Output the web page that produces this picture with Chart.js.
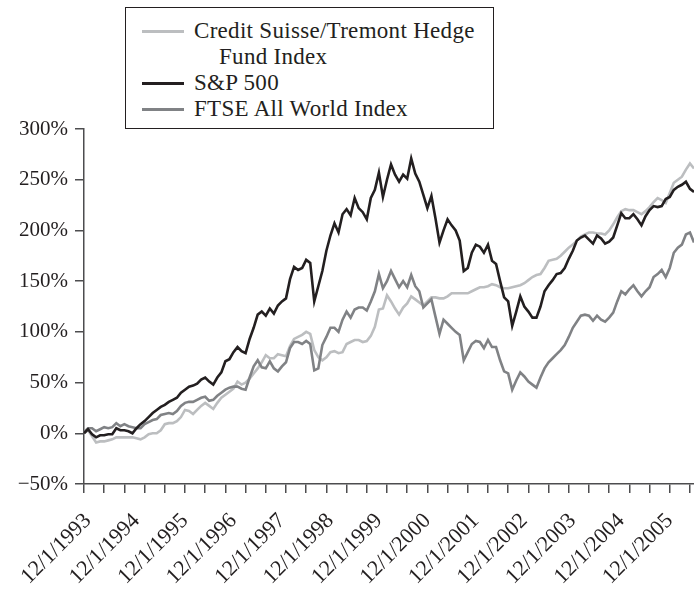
<!DOCTYPE html>
<html>
<head>
<meta charset="utf-8">
<script src="https://cdn.jsdelivr.net/npm/chart.js@4"></script>
<style>
    body { margin: 0; background: #fff; }
    #wrap { position: relative; width: 694px; height: 589px; }
    #legend {
        position: absolute; left: 125px; top: 7px; width: 369px; height: 122px;
        border: 1.5px solid #231f20; background: #fff;
        font-family: "Liberation Serif", serif; font-size: 23px; letter-spacing: 0.3px; color: #231f20;
        padding-top: 10px; box-sizing: border-box;
    }
    #legend .item { position: relative; padding-left: 93px; text-indent: -25px; line-height: 26px; padding-right: 4px; }
    #legend .swatch { position: absolute; left: 16px; top: 12px; width: 42px; height: 3px; }
</style>
</head>
<body>
<div id="wrap">
    <canvas id="perfChart" width="694" height="589"></canvas>
    <div id="legend"></div>
</div>
<script>
// monthly, Dec 1993 onward (cumulative return, %)
const startMonth = 12;
const startYear = 1993;

const hedgeFund = [
    0, 3, -3, -9, -8, -8, -7, -6, -4, -4, -4, -4,
    -4, -5, -6, -4, -1, 0, 0, 3, 9, 10, 10, 12,
    16, 23, 22, 19, 23, 27, 30, 27, 24, 30, 35, 38,
    41, 44, 51, 48, 50, 54, 59, 64, 70, 77, 74, 74,
    78, 77, 76, 86, 93, 95, 97, 100, 98, 82, 75, 72,
    75, 80, 81, 79, 80, 88, 90, 92, 92, 90, 91, 96,
    105, 122, 123, 136, 130, 123, 117, 124, 128, 135, 132, 129,
    126, 130, 134, 134, 133, 133, 135, 138, 138, 138, 138, 138,
    140, 142, 144, 144, 145, 147, 146, 144, 143, 143, 144, 145,
    146, 148, 151, 154, 156, 157, 163, 170, 171, 172, 175, 179,
    183, 186, 190, 194, 196, 198, 198, 197, 197, 196, 200, 206,
    213, 219, 221, 220, 220, 218, 216, 219, 223, 228, 232, 230,
    227, 237, 247, 250, 253, 260, 266, 261
];

const sp500 = [
    0, 4, -1, -4, -2, -2, -1, -1, 5, 3, 3, 2,
    0, 5, 9, 12, 16, 20, 23, 26, 28, 31, 33, 35,
    40, 43, 46, 47, 49, 53, 55, 51, 48, 55, 60, 71,
    73, 80, 85, 81, 79, 93, 104, 117, 120, 116, 123, 118,
    126, 130, 133, 152, 164, 161, 163, 171, 168, 130, 145, 160,
    180, 195, 207, 198, 216, 221, 215, 232, 222, 218, 211, 232,
    240, 257, 233, 250, 265, 255, 248, 255, 251, 271, 256, 248,
    235, 222, 234, 212, 188, 200, 211, 205, 200, 190, 160, 163,
    178, 186, 184, 178, 186, 170, 167, 150, 134, 130, 106, 120,
    135, 125, 120, 114, 114, 125, 140, 146, 151, 157, 158, 163,
    172, 180, 190, 193, 195, 191, 187, 195, 192, 187, 189, 193,
    205, 217, 212, 212, 216, 211, 205, 214, 220, 224, 223, 224,
    231, 233, 240, 243, 245, 248, 241, 238
];

const ftse = [
    1, 5, 5, 2, 4, 6, 5, 6, 10, 7, 9, 7,
    6, 5, 5, 9, 11, 13, 14, 18, 19, 20, 19, 22,
    27, 30, 31, 31, 33, 35, 36, 32, 33, 37, 40, 43,
    45, 46, 46, 44, 43, 55, 66, 72, 65, 64, 71, 64,
    61, 66, 70, 84, 90, 90, 88, 91, 88, 62, 64, 87,
    95, 104, 104, 100, 112, 120, 114, 122, 124, 124, 121, 130,
    140, 157, 143, 150, 160, 152, 144, 150, 144, 156, 145, 140,
    124, 128, 132, 115, 98, 112, 108, 104, 100, 97, 72, 80,
    88, 91, 90, 84, 92, 85, 85, 72, 61, 59, 43, 52,
    60, 56, 51, 48, 45, 55, 64, 70, 74, 78, 82, 87,
    95, 104, 110, 116, 117, 116, 111, 116, 112, 110, 114, 119,
    130, 140, 137, 142, 146, 140, 135, 140, 144, 154, 157, 161,
    154, 163, 178, 183, 186, 196, 198, 188
];

const monthLabels = [];
for (let i = 0; i < sp500.length; i++) {
    const m = (startMonth - 1 + i) % 12 + 1;
    const y = startYear + Math.floor((startMonth - 1 + i) / 12);
    monthLabels.push(m + '/1/' + y);
}

const yTicks = { min: -50, max: 300, step: 50 };

const ink = '#231f20';
const axisColor = '#4d4d4f';
const serif = '"Liberation Serif", "Times New Roman", serif';

const chart = new Chart(document.getElementById('perfChart'), {
    type: 'line',
    data: {
        labels: monthLabels,
        datasets: [
            { label: 'Credit Suisse/Tremont Hedge Fund Index', data: hedgeFund, borderColor: '#bcbec0', order: 2 },
            { label: 'S&P 500', data: sp500, borderColor: ink, order: 0 },
            { label: 'FTSE All World Index', data: ftse, borderColor: '#808285', order: 1 }
        ]
    },
    options: {
        responsive: false,
        animation: false,
        devicePixelRatio: 1,
        layout: { padding: { top: 129, left: 0, right: 0, bottom: 0 } },
        elements: {
            line: { borderWidth: 2.6, tension: 0, fill: false },
            point: { radius: 0 }
        },
        plugins: {
            legend: { display: false },
            tooltip: { enabled: false }
        },
        scales: {
            x: {
                type: 'category',
                offset: false,
                border: { display: true, color: axisColor, width: 1.5 },
                grid: {
                    drawOnChartArea: false,
                    drawTicks: true,
                    tickLength: 9,
                    lineWidth: 1.5,
                    color: ctx => (ctx.index % 5 === 0 ? axisColor : 'rgba(0,0,0,0)')
                },
                ticks: {
                    autoSkip: false,
                    maxRotation: 45,
                    minRotation: 45,
                    padding: 15,
                    labelOffset: 4,
                    color: ink,
                    font: { family: serif, size: 22 },
                    callback: function (value, index) {
                        return index % 12 === 0 ? this.getLabelForValue(value) : '';
                    }
                },
                afterFit: axis => {
                    axis.height = 105;
                    axis.paddingLeft = 0;
                    axis.paddingRight = 0;
                }
            },
            y: {
                min: yTicks.min,
                max: yTicks.max,
                border: { display: true, color: axisColor, width: 1.5 },
                grid: { drawOnChartArea: false, tickLength: 9, lineWidth: 1.5, color: axisColor },
                ticks: {
                    stepSize: yTicks.step,
                    padding: 7,
                    color: ink,
                    font: { family: serif, size: 21 },
                    callback: v => (v < 0 ? '\u2212' + Math.abs(v) : v) + '%'
                },
                afterFit: axis => { axis.width = 84; }
            }
        }
    }
});

// legend box, built from the datasets
const legendEl = document.getElementById('legend');
chart.data.datasets.forEach(ds => {
    const item = document.createElement('div');
    item.className = 'item';
    const sw = document.createElement('span');
    sw.className = 'swatch';
    sw.style.background = ds.borderColor;
    item.appendChild(sw);
    item.appendChild(document.createTextNode(ds.label));
    legendEl.appendChild(item);
});
</script>
</body>
</html>
